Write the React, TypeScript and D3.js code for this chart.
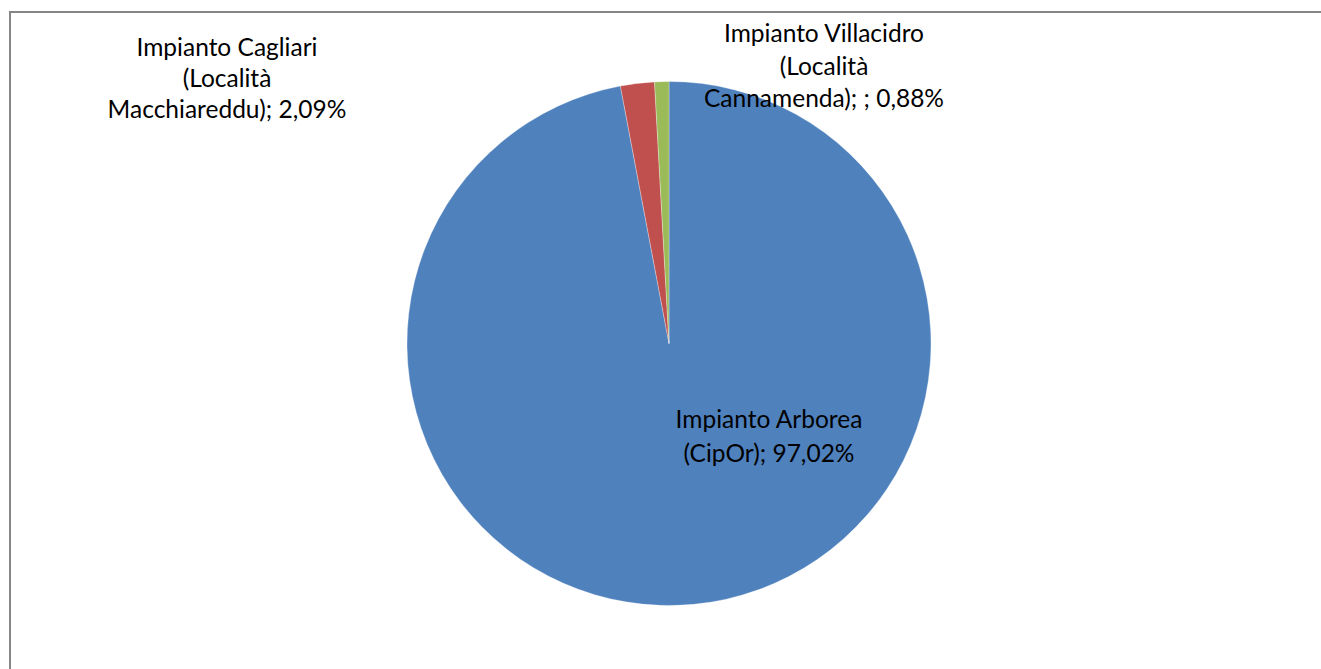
import React from "react";
import * as d3 from "d3";

const categories = [
  "Impianto Arborea (CipOr)",
  "Impianto Cagliari (Località Macchiareddu)",
  "Impianto Villacidro (Località Cannamenda)",
];
const values = [97.02, 2.09, 0.88];
const labelLines = [
  ["Impianto Arborea", "(CipOr); 97,02%"],
  ["Impianto Cagliari", "(Località", "Macchiareddu); 2,09%"],
  ["Impianto Villacidro", "(Località", "Cannamenda); ; 0,88%"],
];
const colors = ["#4F81BD", "#C0504D", "#9BBB59"];

const W = 1321;
const H = 669;
const cx = 669;
const cy = 343.5;
const R = 262;

// label anchor positions (center x, first baseline y)
const labelPos = [
  { x: 769, y: 428 },
  { x: 227, y: 56 },
  { x: 824, y: 42 },
];

export default function App() {
  const pie = d3.pie<number>().sort(null).value((d) => d);
  const arcs = pie(values);
  const arc = d3.arc<d3.PieArcDatum<number>>().innerRadius(0).outerRadius(R);
  const font = "Lato, 'Noto Sans', sans-serif";
  return (
    <svg
      width={W}
      height={H}
      style={{ position: "absolute", left: 0, top: 0, background: "#fff", overflow: "hidden" }}
    >
      <rect x={0} y={0} width={W} height={H} fill="#fff" />
      <path d={`M10,${H + 5} V12 H${W + 5}`} fill="none" stroke="#868686" strokeWidth={2} />
      <g transform={`translate(${cx},${cy})`}>
        {arcs.map((a, i) => (
          <path key={categories[i]} d={arc(a) || ""} fill={colors[i]} stroke="#ffffff" strokeOpacity={0.5} strokeWidth={0.6} />
        ))}
      </g>
      {labelLines.map((lines, i) => (
        <text
          key={i}
          x={labelPos[i].x}
          y={labelPos[i].y}
          textAnchor="middle"
          fontFamily={font}
          fontSize={24.5}
          fill="#000"
        >
          {lines.map((l, j) => (
            <tspan key={j} x={labelPos[i].x} y={labelPos[i].y + j * (i === 0 ? 34 : i === 1 ? 31 : 32.5)}>
              {l}
            </tspan>
          ))}
        </text>
      ))}
    </svg>
  );
}
